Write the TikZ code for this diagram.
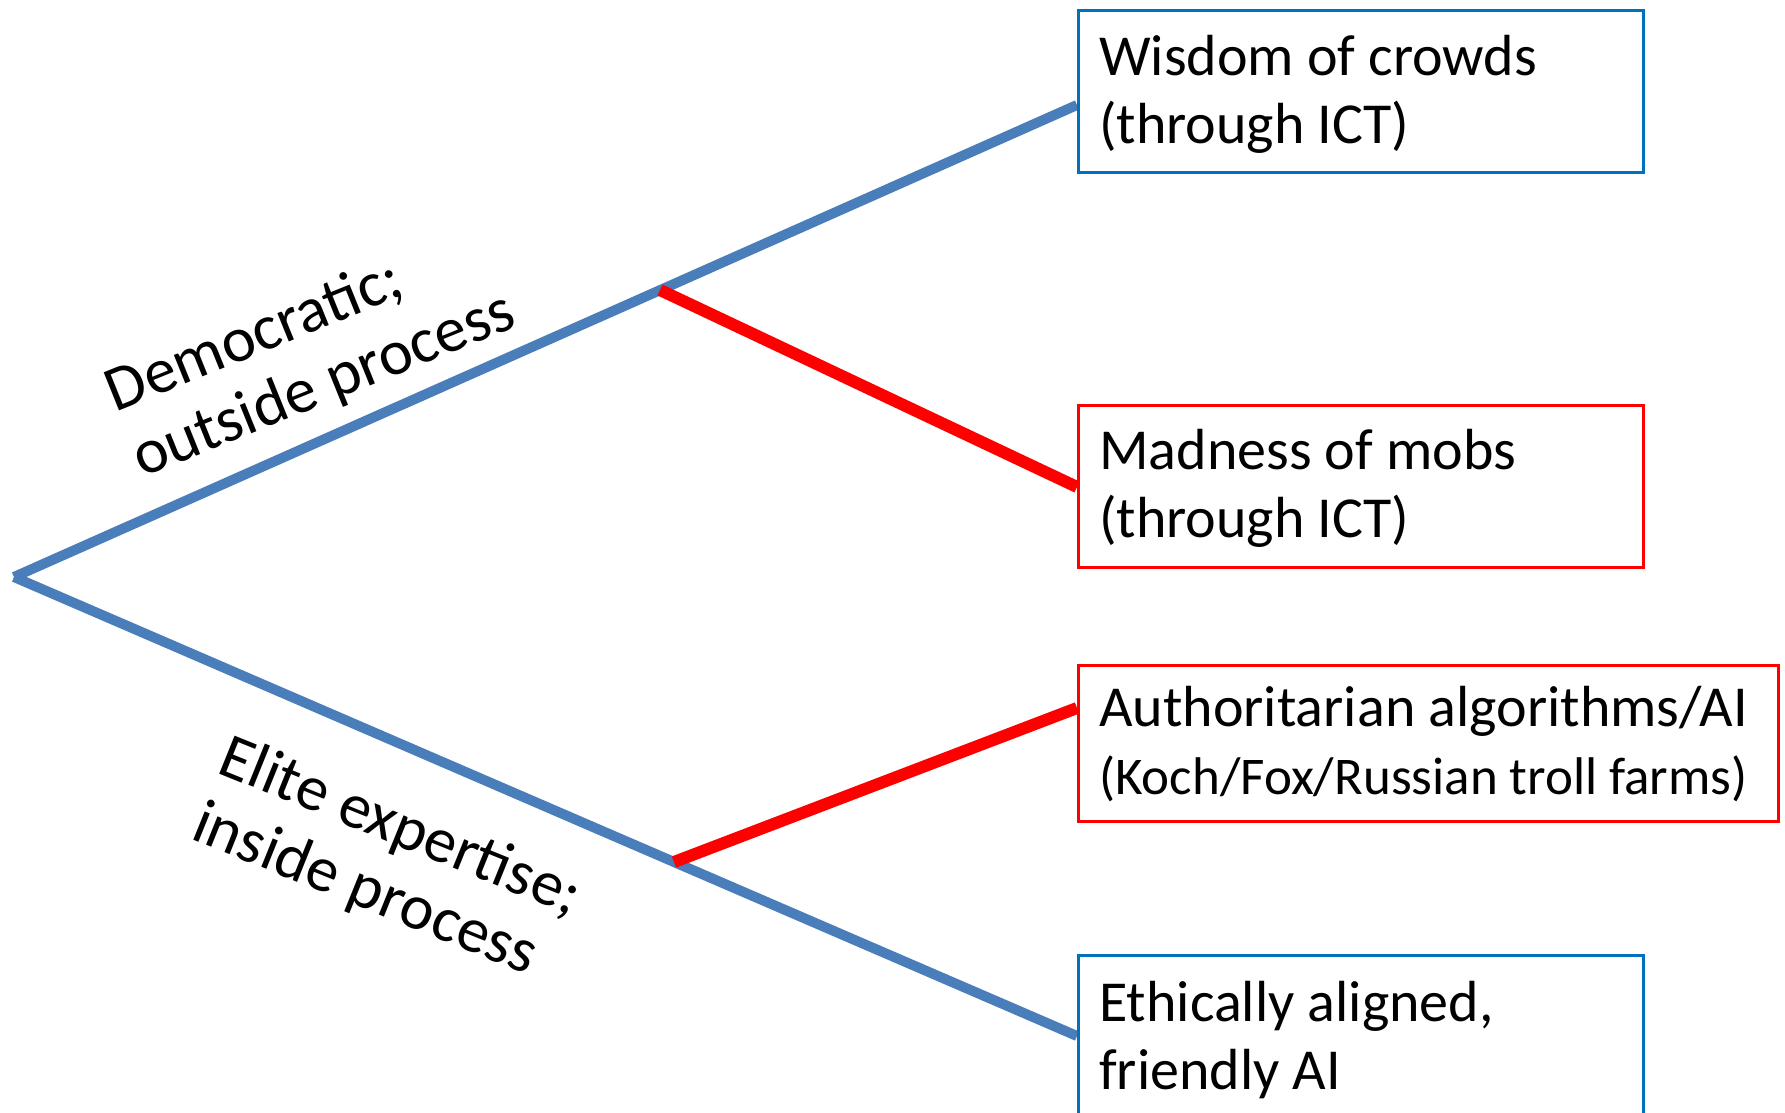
\documentclass[tikz,border=0pt]{standalone}
\usepackage{fontspec}
\setmainfont{Carlito}
\definecolor{lineblue}{HTML}{4A7EBB}
\definecolor{boxblue}{HTML}{0070C0}
\definecolor{boxred}{HTML}{FF0000}
\begin{document}
\begin{tikzpicture}[x=1pt,y=-1pt,
  boxstyle/.style={line width=3pt, minimum width=565pt, minimum height=162pt, anchor=north west, inner sep=0pt},
  txt/.style={font=\fontsize{58}{68}\selectfont, align=left, anchor=base west, inner sep=0pt},
  lbl/.style={font=\fontsize{64}{71}\selectfont, align=left, anchor=base west, inner sep=0pt},
  trunk/.style={line width=10pt, draw=lineblue},
  twig/.style={line width=12pt, draw=boxred}]
\useasboundingbox (0,0) rectangle (1785,1113);
% junctions
\coordinate (root) at (14,577);
\coordinate (up) at (660,290);
\coordinate (low) at (674,862);
% entry points on the boxes' left sides
\coordinate (wisIn) at (1077,105);
\coordinate (madIn) at (1077,487);
\coordinate (autIn) at (1077,708);
\coordinate (ethIn) at (1077,1036);
% connectors
\draw[trunk] (root) -- (wisIn);
\draw[trunk] (root) -- (ethIn);
\draw[twig] (up) -- (madIn);
\draw[twig] (low) -- (autIn);
% boxes
\node[boxstyle, draw=boxblue] (wis) at (1077,9) {};
\node[boxstyle, draw=boxred] (mad) at (1077,404) {};
\node[boxstyle, draw=boxred, minimum width=700pt, minimum height=156pt] (aut) at (1077,664) {};
\node[boxstyle, draw=boxblue, minimum height=175pt] (eth) at (1077,954) {};
% box texts (anchor = baseline of last line)
\node[txt] (wisT) at (1099,143) {Wisdom of crowds\\(through ICT)};
\node[txt] (madT) at (1099,537) {Madness of mobs\\(through ICT)};
\node[txt] (autT) at (1099,794) {Authoritarian algorithms/AI\\{\fontsize{53}{66}\selectfont(Koch/Fox/Russian troll farms)}};
\node[txt] (ethT) at (1099,1089) {Ethically aligned,\\friendly AI};
% branch labels (anchor = baseline start of second line)
\node[lbl, rotate=22] (demL) at (142,478) {Democratic;\\outside process};
\node[lbl, rotate=-22] (eliL) at (189,838) {Elite expertise;\\inside process};
\end{tikzpicture}
\end{document}
